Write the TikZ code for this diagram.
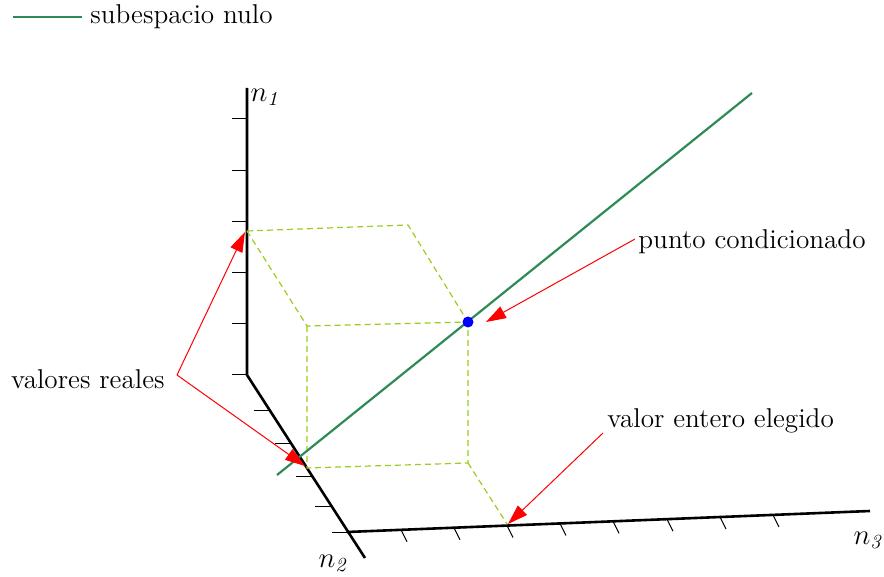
\documentclass[tikz,border=0pt]{standalone}
\usetikzlibrary{arrows.meta}
\definecolor{nullgreen}{RGB}{46,139,87}
\definecolor{boxgreen}{RGB}{154,205,30}
\begin{document}
\begin{tikzpicture}[x=0.5pt,y=-0.5pt,
  axis/.style={line width=1.3pt,black},
  tick/.style={line width=0.5pt,black},
  nullline/.style={line width=1.1pt,nullgreen},
  boxline/.style={line width=0.6pt,boxgreen,dash pattern=on 3pt off 2pt},
  callout/.style={red,line width=0.5pt,-{Triangle[length=10pt,width=6.5pt]}},
  lbl/.style={font=\fontsize{13.6}{16}\selectfont,inner sep=0pt}]
\useasboundingbox (0,0) rectangle (884,577);
% axes points
\coordinate (n1top) at (247,88);
\coordinate (O) at (247,375);
\coordinate (n2end) at (365,558);
\coordinate (n3start) at (347,532);
\coordinate (n3end) at (870,511);
\draw[axis] (n1top) -- (O) -- (n2end);
\draw[axis] (n3start) -- (n3end);
% ticks n1
\foreach \y in {119,171,222,273,324,375} \draw[tick] (232,\y) -- (247,\y);
% ticks n2
\foreach \y in {410,443,476,506,532}
  \draw[tick] ({247+0.6448*(\y-375)-16},\y) -- ({247+0.6448*(\y-375)},\y);
% ticks n3
\foreach \x in {401,454,507,560,613,667,720,773}
  \draw[tick] (\x,{532-0.04015*(\x-347)}) -- ++(6,12);
% axis labels
\node[lbl] (l1) at (266,97) {$n_{\mathit{1}}$};
\node[lbl] (l2) at (334,563) {$n_{\mathit{2}}$};
\node[lbl] (l3) at (869,540) {$n_{\mathit{3}}$};
% box points
\coordinate (A) at (247,231);
\coordinate (B) at (408,225);
\coordinate (C) at (468,322);
\coordinate (D) at (307,326);
\coordinate (E) at (307,468);
\coordinate (F) at (468,463);
\coordinate (G) at (507,524);
\draw[boxline] (A) -- (B) -- (C);
\draw[boxline] (A) -- (D) -- (C);
\draw[boxline] (D) -- (E) -- (F) -- (C);
\draw[boxline] (F) -- (G);
% null space line
\coordinate (g1) at (277,475);
\coordinate (g2) at (752,93);
\draw[nullline] (g1) -- (g2);
\fill[blue] (C) circle[radius=5.5];
% legend
\coordinate (leg1) at (13,17);
\coordinate (leg2) at (82,17);
\draw[nullline] (leg1) -- (leg2);
\node[lbl,anchor=west] (legt) at (90,17) {subespacio nulo};
% labels
\node[lbl,anchor=west] (pc) at (638,242) {punto condicionado};
\node[lbl,anchor=east] (vr) at (165,379) {valores reales};
\node[lbl,anchor=west] (ve) at (607,421) {valor entero elegido};
\coordinate (vrp) at (177,375);
\coordinate (pcp) at (635,239);
\coordinate (vep) at (603,433);
\coordinate (At) at (245,232);
\coordinate (Et) at (305,466);
\coordinate (Ct) at (486,322);
\coordinate (Gt) at (508,524);
\draw[callout] (vrp) -- (At);
\draw[callout] (vrp) -- (Et);
\draw[callout] (pcp) -- (Ct);
\draw[callout] (vep) -- (Gt);
\end{tikzpicture}
\end{document}
